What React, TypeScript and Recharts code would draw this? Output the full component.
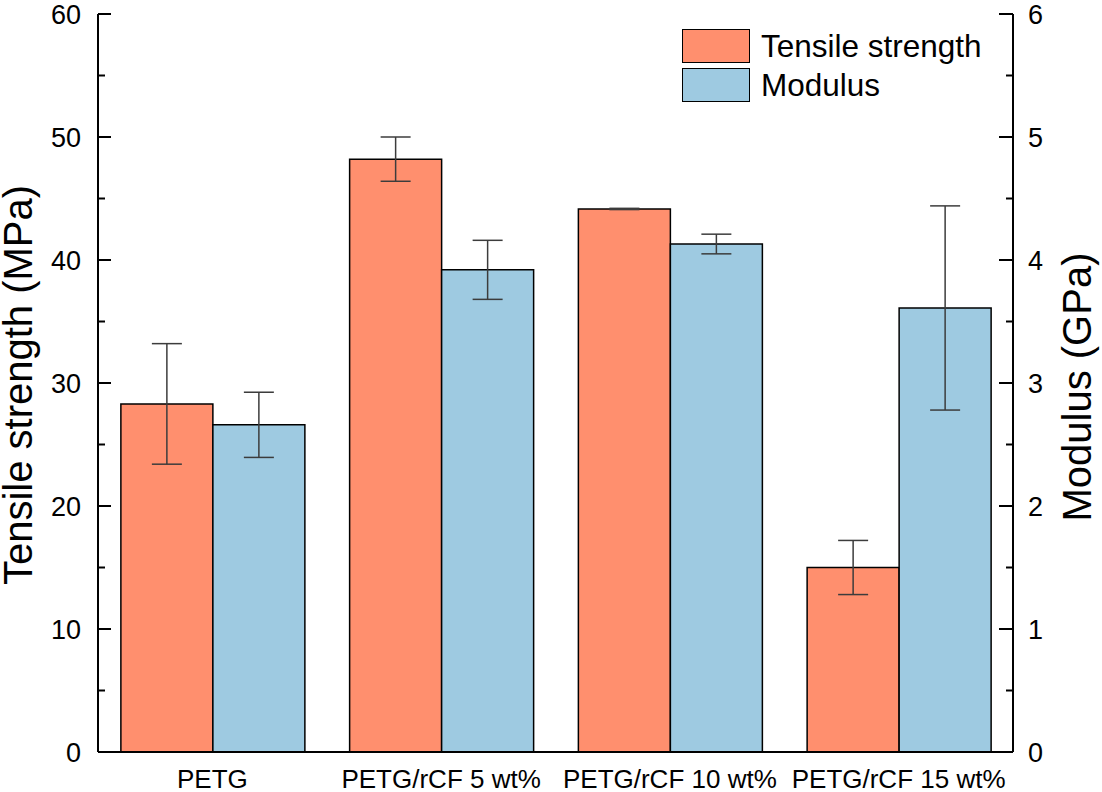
import React from 'react';
import { BarChart, Bar, XAxis, YAxis, ErrorBar, Legend, Label } from 'recharts';

const categories = ['PETG', 'PETG/rCF 5 wt%', 'PETG/rCF 10 wt%', 'PETG/rCF 15 wt%'];
const tensile = [28.3, 48.2, 44.15, 15.0];
const tensileErr = [4.9, 1.8, 0.05, 2.2];
const modulus = [2.66, 3.92, 4.13, 3.61];
const modulusErr = [0.265, 0.24, 0.08, 0.83];
const leftTicks = [0, 5, 10, 15, 20, 25, 30, 35, 40, 45, 50, 55, 60];
const rightTicks = [0, 0.5, 1, 1.5, 2, 2.5, 3, 3.5, 4, 4.5, 5, 5.5, 6];

const data = categories.map((name, i) => ({
  name,
  tensile: tensile[i],
  tensileErr: tensileErr[i],
  modulus: modulus[i],
  modulusErr: modulusErr[i],
}));

const FONT = '"Liberation Sans", Arial, Helvetica, sans-serif';
const TENSILE_COLOR = '#FF8F6E';
const MODULUS_COLOR = '#9ECAE1';
const LEFT_MARGIN = 17;
const RIGHT_MARGIN = 15;

const LeftTick = (props: any) => {
  const { x, y, payload } = props;
  const v = payload.value;
  const major = Math.abs(v % 10) < 1e-6;
  const ax = x + LEFT_MARGIN;
  return (
    <g>
      <line x1={ax} x2={ax + (major ? 13 : 7)} y1={y} y2={y} stroke="#000" strokeWidth={2} />
      {major && (
        <text x={x} y={y} dy="0.36em" textAnchor="end" fontSize={27} fontFamily={FONT} fill="#000">
          {v}
        </text>
      )}
    </g>
  );
};

const RightTick = (props: any) => {
  const { x, y, payload } = props;
  const v = payload.value;
  const major = Math.abs(v - Math.round(v)) < 1e-6;
  const ax = x - RIGHT_MARGIN;
  return (
    <g>
      <line x1={ax} x2={ax - (major ? 14 : 7)} y1={y} y2={y} stroke="#000" strokeWidth={2} />
      {major && (
        <text x={x} y={y} dy="0.36em" textAnchor="start" fontSize={27} fontFamily={FONT} fill="#000">
          {v}
        </text>
      )}
    </g>
  );
};

const XTick = (props: any) => {
  const { x, y, payload } = props;
  return (
    <text x={x} y={y} dy="0.71em" textAnchor="middle" fontSize={26} fontFamily={FONT} fill="#000">
      {payload.value}
    </text>
  );
};

const LeftTitle = (props: any) => {
  const vb = props.viewBox || {};
  const cx = vb.x + 32;
  const cy = vb.y + vb.height / 2 + 2;
  return (
    <text
      x={cx}
      y={cy}
      transform={`rotate(-90, ${cx}, ${cy})`}
      textAnchor="middle"
      fontSize={40}
      fontFamily={FONT}
      fill="#000"
    >
      Tensile strength (MPa)
    </text>
  );
};

const RightTitle = (props: any) => {
  const vb = props.viewBox || {};
  const cx = vb.x + 78;
  const cy = vb.y + vb.height / 2 + 4;
  return (
    <text
      x={cx}
      y={cy}
      transform={`rotate(-90, ${cx}, ${cy})`}
      textAnchor="middle"
      fontSize={40}
      fontFamily={FONT}
      fill="#000"
    >
      Modulus (GPa)
    </text>
  );
};

const legendItems = [
  { label: 'Tensile strength', color: TENSILE_COLOR },
  { label: 'Modulus', color: MODULUS_COLOR },
];

const LegendContent = () => (
  <div style={{ fontFamily: FONT }}>
    {legendItems.map((it, i) => (
      <div key={it.label} style={{ display: 'flex', alignItems: 'center', height: 34, marginBottom: i === 0 ? 5 : 0 }}>
        <div
          style={{
            width: 66,
            height: 32,
            background: it.color,
            border: '1.5px solid #000',
            boxSizing: 'content-box',
          }}
        />
        <span style={{ marginLeft: 11, fontSize: 31.5, color: '#000', lineHeight: '34px', whiteSpace: 'nowrap' }}>
          {it.label}
        </span>
      </div>
    ))}
  </div>
);

export default function App() {
  return (
    <div style={{ position: 'absolute', left: 0, top: 0, width: 1102, height: 792, background: '#fff' }}>
      <BarChart
        width={1102}
        height={792}
        data={data}
        margin={{ top: 14, right: 0, bottom: 0, left: 0 }}
        barGap={0}
        barCategoryGap="10%"
      >
        <XAxis
          dataKey="name"
          xAxisId="bottom"
          height={40}
          tickLine={false}
          tickSize={0}
          tickMargin={18}
          axisLine={{ stroke: '#000', strokeWidth: 2 }}
          tick={<XTick />}
          interval={0}
        />
        <XAxis
          dataKey="name"
          xAxisId="top"
          orientation="top"
          height={0}
          tick={false}
          tickLine={false}
          axisLine={{ stroke: '#000', strokeWidth: 2 }}
        />
        <YAxis
          yAxisId="left"
          orientation="left"
          width={98}
          domain={[0, 60]}
          ticks={leftTicks}
          interval={0}
          tickLine={false}
          tickSize={0}
          tickMargin={LEFT_MARGIN}
          axisLine={{ stroke: '#000', strokeWidth: 2 }}
          tick={<LeftTick />}
        >
          <Label content={<LeftTitle />} />
        </YAxis>
        <YAxis
          yAxisId="right"
          orientation="right"
          width={89}
          domain={[0, 6]}
          ticks={rightTicks}
          interval={0}
          tickLine={false}
          tickSize={0}
          tickMargin={RIGHT_MARGIN}
          axisLine={{ stroke: '#000', strokeWidth: 2 }}
          tick={<RightTick />}
        >
          <Label content={<RightTitle />} />
        </YAxis>
        <Legend
          layout="vertical"
          align="center"
          verticalAlign="middle"
          content={<LegendContent />}
          wrapperStyle={{ left: 682, top: 29, width: 320, height: 80 }}
        />
        <Bar
          xAxisId="bottom"
          yAxisId="left"
          dataKey="tensile"
          name="Tensile strength"
          fill={TENSILE_COLOR}
          stroke="#000"
          strokeWidth={1.5}
          isAnimationActive={false}
        >
          <ErrorBar dataKey="tensileErr" width={15} stroke="#3c3c3c" strokeWidth={1.5} direction="y" isAnimationActive={false} />
        </Bar>
        <Bar
          xAxisId="bottom"
          yAxisId="right"
          dataKey="modulus"
          name="Modulus"
          fill={MODULUS_COLOR}
          stroke="#000"
          strokeWidth={1.5}
          isAnimationActive={false}
        >
          <ErrorBar dataKey="modulusErr" width={15} stroke="#3c3c3c" strokeWidth={1.5} direction="y" isAnimationActive={false} />
        </Bar>
      </BarChart>
    </div>
  );
}
